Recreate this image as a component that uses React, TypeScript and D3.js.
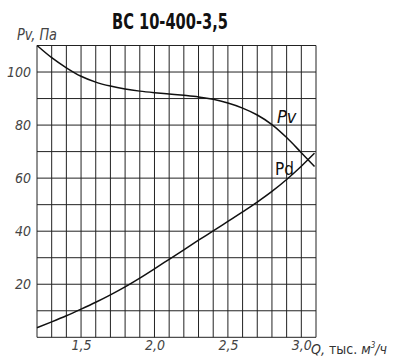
import React from "react";
import * as d3 from "d3";

const qValues = [1.2, 1.3, 1.4, 1.5, 1.6, 1.7, 1.8, 1.9, 2.0, 2.1, 2.2, 2.3, 2.4, 2.5, 2.6, 2.7, 2.8, 2.9, 3.0, 3.09];
const pvValues = [110, 105.4, 101.6, 98.4, 96.2, 94.7, 93.6, 92.8, 92.2, 91.7, 91.2, 90.6, 89.7, 88.3, 86.4, 83.8, 80.2, 75.3, 69.6, 64.4];
const pdValues = [3.6, 5.8, 8.1, 10.6, 13.2, 16.0, 19.0, 22.3, 25.8, 29.4, 33.0, 36.6, 40.1, 43.7, 47.3, 51.0, 55.0, 59.5, 64.5, 69.4];
const xTicks = [1.5, 2.0, 2.5, 3.0];
const yTicks = [20, 40, 60, 80, 100];
const title = "BC 10-400-3,5";

const W = 406;
const H = 363;
const cond = "'DejaVu Sans Condensed', 'DejaVu Sans', sans-serif";

export default function App() {
  const x = d3.scaleLinear().domain([1.2, 3.1]).range([37, 316]);
  const y = d3.scaleLinear().domain([0, 110]).range([337.3, 45.5]);
  const xGrid = d3.range(0, 20).map((i) => 1.2 + i * 0.1);
  const yGrid = d3.range(0, 12).map((i) => i * 10);
  const line = d3
    .line<number>()
    .x((_, i) => x(qValues[i]))
    .y((d) => y(d))
    .curve(d3.curveMonotoneX);
  const fmt = (v: number) => v.toFixed(1).replace(".", ",");
  const tickStyle: React.CSSProperties = { fontStretch: "condensed" };

  return (
    <svg
      width={W}
      height={H}
      style={{ position: "absolute", left: 0, top: 0, background: "#fff" }}
    >
      <g stroke="#222" strokeWidth={1} fill="none">
        {xGrid.map((v, i) => (
          <line key={"vx" + i} x1={x(v)} x2={x(v)} y1={y(110)} y2={y(0)} />
        ))}
        {yGrid.map((v, i) => (
          <line key={"hy" + i} x1={x(1.2)} x2={x(3.1)} y1={y(v)} y2={y(v)} />
        ))}
      </g>
      <path d={line(pvValues) || ""} fill="none" stroke="#111" strokeWidth={1.5} />
      <path d={line(pdValues) || ""} fill="none" stroke="#111" strokeWidth={1.5} />

      <text x={112} y={29} fontFamily={cond} fontWeight="bold" fontSize={21} fill="#111"
        textLength={116} lengthAdjust="spacingAndGlyphs" style={tickStyle}>
        {title}
      </text>
      <text x={17} y={40} fontFamily={cond} fontStyle="italic" fontSize={15} fill="#444"
        textLength={40} lengthAdjust="spacingAndGlyphs" style={tickStyle}>
        Pv, Па
      </text>

      {yTicks.map((v) => (
        <text key={"yt" + v} x={31} y={y(v) + 5} textAnchor="end" fontFamily={cond} fontStyle="italic" fontSize={14} fill="#444" style={tickStyle}>
          {v}
        </text>
      ))}
      {xTicks.map((v) => (
        <text key={"xt" + v} x={x(v) + 0.5} y={350} textAnchor="middle" fontFamily={cond} fontStyle="italic" fontSize={14} fill="#444" style={tickStyle}>
          {fmt(v)}
        </text>
      ))}

      <text x={311} y={354} fontFamily={cond} fontSize={14} fill="#333" style={tickStyle}>
        <tspan fontStyle="italic">Q, </tspan>
        <tspan>тыс. </tspan>
        <tspan fontStyle="italic">м</tspan>
        <tspan fontStyle="italic" fontSize={8} dy={-6}>3</tspan>
        <tspan fontStyle="italic" dy={6}>/ч</tspan>
      </text>

      <text x={277} y={123} fontFamily={cond} fontStyle="italic" fontSize={18} fill="#111" style={tickStyle}>
        Pv
      </text>
      <text x={275} y={175} fontFamily={cond} fontSize={17} fill="#111" style={tickStyle}>
        Pd
      </text>
    </svg>
  );
}
